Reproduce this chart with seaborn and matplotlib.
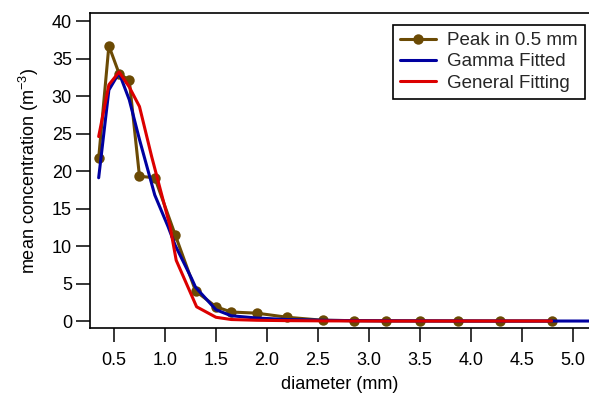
import matplotlib
matplotlib.use("Agg")
import matplotlib.pyplot as plt
import seaborn as sns
import pandas as pd

# Data
diam_peak = [0.35, 0.45, 0.55, 0.65, 0.75, 0.90, 1.10, 1.30, 1.50, 1.65, 1.90, 2.20, 2.55, 2.85, 3.17, 3.50, 3.87, 4.28, 4.79]
conc_peak = [21.7, 36.7, 33.0, 32.1, 19.3, 19.1, 11.5, 4.0, 1.9, 1.2, 1.05, 0.5, 0.1, 0.05, 0.02, 0.01, 0.0, 0.0, 0.0]

diam_gamma = [0.35, 0.45, 0.55, 0.65, 0.75, 0.90, 1.03, 1.10, 1.26, 1.30, 1.50, 1.65, 1.90, 2.20, 2.55, 2.85, 3.17, 3.50, 3.87, 4.28, 4.79, 5.40]
conc_gamma = [19.1, 30.8, 33.1, 29.5, 24.2, 16.8, 12.6, 10.1, 5.7, 4.5, 1.5, 0.7, 0.4, 0.2, 0.1, 0.05, 0.03, 0.02, 0.01, 0.0, 0.0, 0.0]

diam_general = [0.35, 0.45, 0.55, 0.65, 0.75, 0.87, 1.05, 1.11, 1.31, 1.50, 1.65, 1.90, 2.20, 2.55, 2.85, 3.17, 3.50, 3.87, 4.28, 4.79]
conc_general = [24.6, 31.5, 33.2, 31.2, 28.6, 21.9, 12.6, 8.1, 1.9, 0.5, 0.2, 0.1, 0.05, 0.02, 0.01, 0.0, 0.0, 0.0, 0.0, 0.0]

labels = ["Peak in 0.5 mm", "Gamma Fitted", "General Fitting"]
x_ticks = [0.5, 1.0, 1.5, 2.0, 2.5, 3.0, 3.5, 4.0, 4.5, 5.0]
y_ticks = [0, 5, 10, 15, 20, 25, 30, 35, 40]

sns.set_theme(style="ticks")
plt.rcParams["font.family"] = ["Liberation Sans", "DejaVu Sans"]
plt.rcParams["mathtext.fontset"] = "custom"
plt.rcParams["mathtext.rm"] = "Liberation Sans"
plt.rcParams["mathtext.it"] = "Liberation Sans"

fig = plt.figure(figsize=(5.89, 3.98), dpi=100)
ax = fig.add_axes([90 / 589, 70 / 398, 499 / 589, 315 / 398])

df_peak = pd.DataFrame({"d": diam_peak, "c": conc_peak})
df_gamma = pd.DataFrame({"d": diam_gamma, "c": conc_gamma})
df_gen = pd.DataFrame({"d": diam_general, "c": conc_general})

brown = "#6b4a04"
blue = "#0000a0"
red = "#dc0000"

sns.lineplot(data=df_peak, x="d", y="c", ax=ax, color=brown, lw=2.2, marker="o",
             markersize=7.5, markeredgewidth=0, label=labels[0], sort=False)
sns.lineplot(data=df_gamma, x="d", y="c", ax=ax, color=blue, lw=2.2, label=labels[1], sort=False)
sns.lineplot(data=df_gen, x="d", y="c", ax=ax, color=red, lw=2.2, label=labels[2], sort=False)

ax.set_xlim(0.265, 5.157)
ax.set_ylim(-0.93, 41.07)
ax.set_xticks(x_ticks)
ax.set_yticks(y_ticks)
ax.set_xticklabels([f"{v:.1f}" for v in x_ticks])
ax.set_yticklabels([str(v) for v in y_ticks])

for s in ["left", "bottom", "top"]:
    ax.spines[s].set_visible(True)
    ax.spines[s].set_color("black")
    ax.spines[s].set_linewidth(1.2)
ax.spines["right"].set_visible(False)
ax.tick_params(axis="both", direction="out", length=10, width=1.1, color="black",
               labelsize=13, labelcolor="black", pad=3)
ax.tick_params(axis="x", pad=7)

ax.set_xlabel("diameter (mm)", fontsize=13, color="black", labelpad=5)
ax.set_ylabel("mean concentration (m$^{-3}$)", fontsize=13, color="black", labelpad=8)

leg = ax.legend(loc="upper right", bbox_to_anchor=(0.992, 0.962), borderaxespad=0,
                fontsize=13.5, frameon=True, fancybox=False, framealpha=1,
                edgecolor="black", handlelength=1.9, handletextpad=0.6,
                labelspacing=0.22, borderpad=0.38)
leg.get_frame().set_linewidth(1.2)

fig.savefig("out.png", dpi=100)
